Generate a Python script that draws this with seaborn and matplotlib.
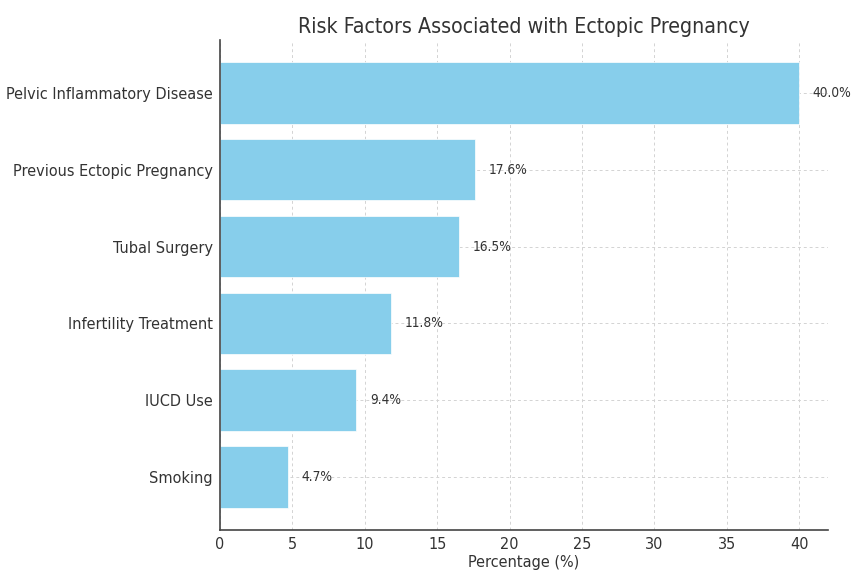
import matplotlib
matplotlib.use("Agg")
import matplotlib.pyplot as plt
import seaborn as sns
import pandas as pd

factors = ["Pelvic Inflammatory Disease", "Previous Ectopic Pregnancy", "Tubal Surgery",
           "Infertility Treatment", "IUCD Use", "Smoking"]
percentages = [40.0, 17.6, 16.5, 11.8, 9.4, 4.7]

df = pd.DataFrame({"Risk Factor": factors, "Percentage": percentages})

sns.set_style("white")
plt.rcParams["font.family"] = ["DejaVu Sans"]
text_color = "#333333"

fig, ax = plt.subplots(figsize=(8.51, 5.71), dpi=100)
sns.barplot(data=df, x="Percentage", y="Risk Factor", orient="h", color="#87CEEB",
            saturation=1, width=0.8, edgecolor="white", linewidth=0.5, ax=ax)

for i, v in enumerate(percentages):
    ax.text(v + 0.95, i, f"{v:.1f}%", va="center", ha="left", fontsize=9.8,
            color=text_color, fontstretch="condensed")

ax.set_xlim(0, 42)
ax.set_ylim(len(factors) - 0.31, -0.69)
ax.set_xticks(range(0, 41, 5))
ax.set_title("Risk Factors Associated with Ectopic Pregnancy", fontsize=15.3,
             color=text_color, fontstretch="condensed", pad=5)
ax.set_xlabel("Percentage (%)", fontsize=11.6, color=text_color,
              fontstretch="condensed", labelpad=2)
ax.set_ylabel("")
ax.grid(True, linestyle=(0, (3, 3)), color="#d3d3d3", linewidth=0.7)
ax.set_axisbelow(True)
sns.despine(ax=ax)
for s in ("left", "bottom"):
    ax.spines[s].set_color("#444444")
    ax.spines[s].set_linewidth(1.2)
ax.tick_params(axis="both", direction="out", length=3, color="#444444",
               labelsize=11.6, labelcolor=text_color)
ax.tick_params(axis="x", pad=2)
ax.tick_params(axis="y", pad=2)
for lbl in ax.get_xticklabels() + ax.get_yticklabels():
    lbl.set_fontstretch("condensed")

fig.subplots_adjust(left=0.2585, right=0.973, top=0.93, bottom=0.072)
fig.savefig("out.png", dpi=100)
